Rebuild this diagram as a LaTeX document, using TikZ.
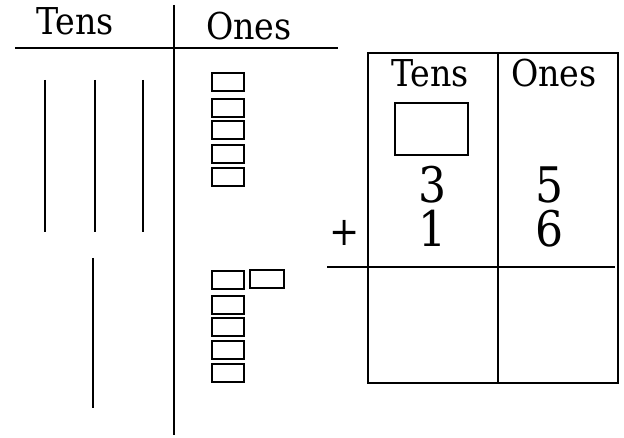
\documentclass[tikz,border=0pt]{standalone}
\usepackage{fontspec}
\setmainfont{DejaVu Serif}[FakeStretch=0.9]
\usetikzlibrary{positioning}

\begin{document}
\begin{tikzpicture}[x=1pt,y=-1pt,
    rule/.style={line width=2.5pt},
    rod/.style={line width=2.2pt},
    unit/.style={draw,line width=2.2pt,minimum width=32pt,minimum height=18pt,inner sep=0pt},
    head/.style={anchor=base,font=\fontsize{37}{42}\selectfont},
    digit/.style={anchor=base,inner sep=0pt,font=\fontsize{49}{54}\selectfont}]

  \useasboundingbox (0,0) rectangle (624,438);

  \node [head] (tensL) at (75,35) {Tens};
  \node [head] (onesL) at (249,40) {Ones};
  \draw [rule] (15,48) -- (338,48);
  \draw [rule] (174,5) -- (174,435);

  \draw [rod] (45,80) -- (45,232);
  \draw [rod] (95,80) -- (95,232);
  \draw [rod] (143,80) -- (143,232);
  \draw [rod] (93,258) -- (93,408);

  \foreach \y [count=\i] in {82,108,130,154,177}
    \node [unit] (top\i) at (228,\y) {};
  \foreach \y [count=\i] in {280,305,327,350,373}
    \node [unit] (bot\i) at (228,\y) {};
  \node [unit,minimum width=34pt] (extra) at (267,279) {};

  \draw [rule] (368,53) rectangle (618,383);
  \draw [rule] (498,53) -- (498,383);
  \draw [rule] (327,267) -- (615,267);

  \node [head] (tensR) at (430,87) {Tens};
  \node [head] (onesR) at (554,87) {Ones};
  \draw [rod] (395,103) rectangle (468,155);

  \node [digit] (aTens) at (433,203) {3};
  \node [digit] (aOnes) at (550,203) {5};
  \node [digit] (bTens) at (433,247) {1};
  \node [digit] (bOnes) at (550,247) {6};
  \node [font=\fontsize{40}{44}\selectfont] (plus) at (345,233) {+};

\end{tikzpicture}
\end{document}
